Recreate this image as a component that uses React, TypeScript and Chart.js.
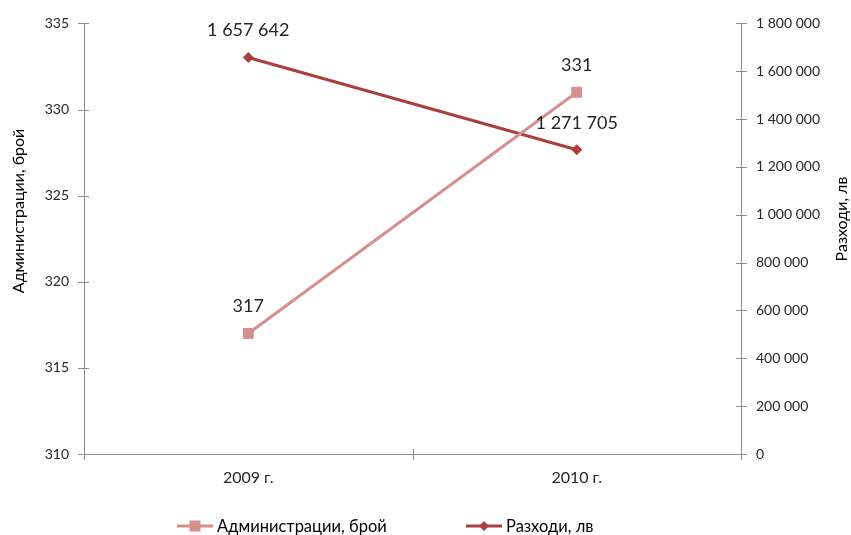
import React, { useEffect, useRef } from "react";
import { Chart, registerables } from "chart.js";

Chart.register(...registerables);

const categories = ["2009 г.", "2010 г."];
const adminCount = [317, 331];
const expenses = [1657642, 1271705];
const leftTicks = [310, 315, 320, 325, 330, 335];
const rightTicks = [0, 200000, 400000, 600000, 800000, 1000000, 1200000, 1400000, 1600000, 1800000];

const seriesNames = ["Администрации, брой", "Разходи, лв"];
const axisTitles = ["Администрации, брой", "Разходи, лв"];

const PINK = "#D58F8D";
const RED = "#AA403D";
const AXIS = "#8C8C8C";
const TEXT = "#262626";
const FONT = "Lato, 'Open Sans', sans-serif";

const fmt = (v: number) => String(v).replace(/\B(?=(\d{3})+(?!\d))/g, " ");

const customPlugin = {
  id: "custom",
  afterDraw(chart: any) {
    const ctx = chart.ctx;
    const x = chart.scales.x;
    const y = chart.scales.y;
    const y1 = chart.scales.y1;
    const area = chart.chartArea;
    ctx.save();
    ctx.strokeStyle = AXIS;
    ctx.lineWidth = 1;
    ctx.beginPath();
    ctx.moveTo(Math.round(area.left) + 0.5, area.top);
    ctx.lineTo(Math.round(area.left) + 0.5, area.bottom);
    ctx.moveTo(Math.round(area.right) + 0.5, area.top);
    ctx.lineTo(Math.round(area.right) + 0.5, area.bottom);
    ctx.moveTo(area.left, Math.round(area.bottom) + 0.5);
    ctx.lineTo(area.right, Math.round(area.bottom) + 0.5);
    leftTicks.forEach((t) => {
      const py = Math.round(y.getPixelForValue(t)) + 0.5;
      ctx.moveTo(area.left - 6, py);
      ctx.lineTo(area.left + 5, py);
    });
    rightTicks.forEach((t) => {
      const py = Math.round(y1.getPixelForValue(t)) + 0.5;
      ctx.moveTo(area.right - 5, py);
      ctx.lineTo(area.right + 6, py);
    });
    const n = categories.length;
    const step = (area.right - area.left) / n;
    for (let i = 0; i <= n; i++) {
      const px = Math.round(area.left + i * step) + 0.5;
      ctx.moveTo(px, area.bottom - 5);
      ctx.lineTo(px, area.bottom + 6);
    }
    ctx.stroke();

    // category labels
    ctx.fillStyle = TEXT;
    ctx.font = `16px ${FONT}`;
    ctx.textAlign = "center";
    ctx.textBaseline = "middle";
    categories.forEach((c, i) => {
      ctx.fillText(c, x.getPixelForValue(i), 478);
    });

    // axis titles
    ctx.fillStyle = "#000";
    ctx.font = `16px ${FONT}`;
    ctx.save();
    ctx.translate(19, 211);
    ctx.rotate(-Math.PI / 2);
    ctx.fillText(axisTitles[0], 0, 0);
    ctx.restore();
    ctx.save();
    ctx.translate(842, 219);
    ctx.rotate(-Math.PI / 2);
    ctx.fillText(axisTitles[1], 0, 0);
    ctx.restore();

    // data labels
    ctx.fillStyle = TEXT;
    ctx.font = `18px ${FONT}`;
    chart.data.datasets.forEach((ds: any, di: number) => {
      const meta = chart.getDatasetMeta(di);
      meta.data.forEach((pt: any, i: number) => {
        ctx.fillText(fmt(ds.data[i]), pt.x, pt.y - 27);
      });
    });

    // legend
    const ly = 526;
    const entries = [
      { x: 177, color: PINK, style: "rect", name: seriesNames[0] },
      { x: 466, color: RED, style: "diamond", name: seriesNames[1] },
    ];
    entries.forEach((e) => {
      ctx.strokeStyle = e.color;
      ctx.fillStyle = e.color;
      ctx.lineWidth = 3;
      ctx.beginPath();
      ctx.moveTo(e.x, ly);
      ctx.lineTo(e.x + 36, ly);
      ctx.stroke();
      const cx = e.x + 18;
      ctx.beginPath();
      if (e.style === "rect") {
        ctx.rect(cx - 5.5, ly - 5.5, 11, 11);
      } else {
        ctx.moveTo(cx - 5, ly);
        ctx.lineTo(cx, ly - 5);
        ctx.lineTo(cx + 5, ly);
        ctx.lineTo(cx, ly + 5);
        ctx.closePath();
      }
      ctx.fill();
      ctx.fillStyle = "#000";
      ctx.font = `16.5px ${FONT}`;
      ctx.textAlign = "left";
      ctx.textBaseline = "middle";
      ctx.fillText(e.name, e.x + 40, ly + 1);
    });
    ctx.restore();
  },
};

export default function App() {
  const ref = useRef<HTMLCanvasElement>(null);
  useEffect(() => {
    if (!ref.current) return;
    const chart = new Chart(ref.current, {
      type: "line",
      data: {
        labels: categories,
        datasets: [
          {
            label: seriesNames[0],
            data: adminCount,
            yAxisID: "y",
            borderColor: PINK,
            backgroundColor: PINK,
            borderWidth: 3,
            pointStyle: "rect",
            pointRadius: 7,
            pointBorderWidth: 1,
            tension: 0,
          },
          {
            label: seriesNames[1],
            data: expenses,
            yAxisID: "y1",
            borderColor: RED,
            backgroundColor: RED,
            borderWidth: 3,
            pointStyle: "rectRot",
            pointRadius: 5,
            pointBorderWidth: 1,
            tension: 0,
          },
        ],
      },
      options: {
        animation: false,
        responsive: false,
        maintainAspectRatio: false,
        layout: { padding: { top: 22, left: 0, right: 0, bottom: 0 } },
        plugins: { legend: { display: false }, tooltip: { enabled: false } },
        scales: {
          x: {
            type: "category",
            offset: true,
            grid: { display: false, drawTicks: false },
            border: { display: false },
            ticks: { display: false },
            afterFit: (s: any) => { s.height = 81; },
          },
          y: {
            position: "left",
            min: 310,
            max: 335,
            grid: { display: false, drawTicks: false },
            border: { display: false },
            ticks: { stepSize: 5, font: { family: FONT, size: 14 }, color: TEXT, padding: 15 },
            afterFit: (s: any) => { s.width = 84; },
          },
          y1: {
            position: "right",
            min: 0,
            max: 1800000,
            grid: { display: false, drawTicks: false },
            border: { display: false },
            ticks: {
              stepSize: 200000,
              font: { family: FONT, size: 14 },
              color: TEXT,
              padding: 15,
              callback: (v: any) => fmt(Number(v)),
            },
            afterFit: (s: any) => { s.width = 110; },
          },
        },
      },
      plugins: [customPlugin],
    });
    return () => chart.destroy();
  }, []);
  return (
    <div style={{ position: "absolute", left: 0, top: 0, width: 851, height: 535, background: "#fff" }}>
      <canvas ref={ref} width={851} height={535} style={{ width: 851, height: 535, display: "block" }} />
    </div>
  );
}
